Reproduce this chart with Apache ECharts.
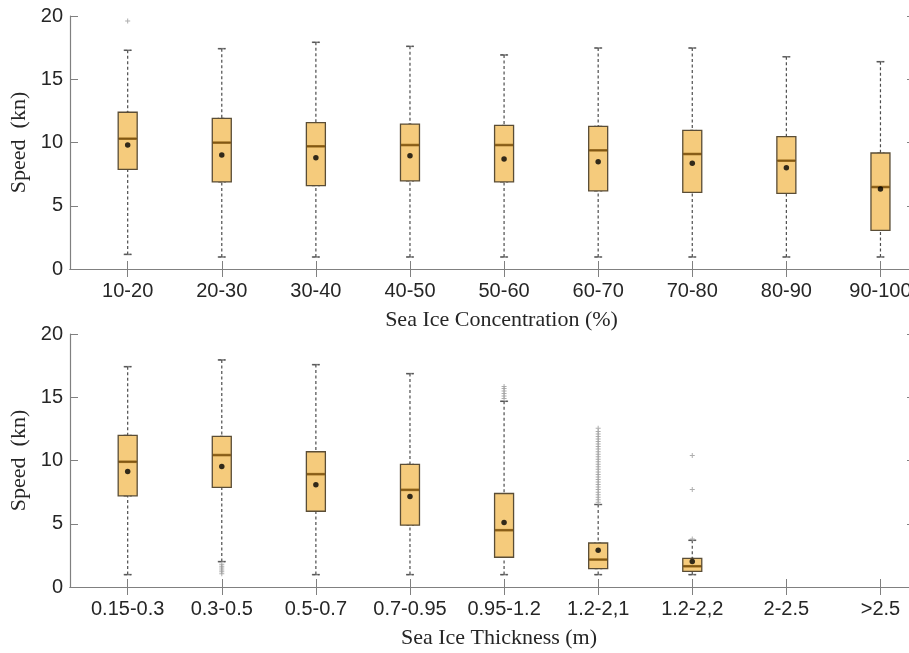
<!DOCTYPE html>
<html>
<head>
<meta charset="utf-8">
<script src="https://cdn.jsdelivr.net/npm/echarts@6/dist/echarts.min.js"></script>
<style>
  html, body { margin: 0; padding: 0; background: #fff; }
  #chart { width: 909px; height: 653px; }
</style>
</head>
<body>
<div id="chart"></div>
<script>
// top panel: speed by sea ice concentration
const concCats = ['10-20', '20-30', '30-40', '40-50', '50-60', '60-70', '70-80', '80-90', '90-100'];
const concLow  = [1.15, 0.95, 0.95, 0.95, 0.95, 0.95, 0.95, 0.95, 0.95];
const concQ1   = [7.88, 6.88, 6.59, 6.96, 6.88, 6.17, 6.06, 5.98, 3.06];
const concMed  = [10.30, 9.99, 9.70, 9.80, 9.80, 9.38, 9.09, 8.56, 6.48];
const concQ3   = [12.39, 11.91, 11.57, 11.46, 11.36, 11.28, 10.96, 10.46, 9.17];
const concHigh = [17.29, 17.42, 17.92, 17.60, 16.92, 17.47, 17.47, 16.78, 16.39];
const concMean = [9.80, 9.01, 8.80, 8.96, 8.70, 8.48, 8.35, 8.01, 6.32];
const concOutliers = [[1, 19.6]];

// bottom panel: speed by sea ice thickness
const thickCats = ['0.15-0.3', '0.3-0.5', '0.5-0.7', '0.7-0.95', '0.95-1.2', '1.2-2,1', '1.2-2,2', '2-2.5', '>2.5'];
const thickLow  = [0.98, 2.01, 0.98, 0.98, 0.98, 0.98, 0.98];
const thickQ1   = [7.21, 7.87, 5.99, 4.89, 2.35, 1.46, 1.24];
const thickMed  = [9.90, 10.43, 8.92, 7.68, 4.49, 2.17, 1.64];
const thickQ3   = [11.98, 11.91, 10.69, 9.69, 7.39, 3.48, 2.27];
const thickHigh = [17.42, 17.95, 17.58, 16.87, 14.68, 6.52, 3.69];
const thickMean = [9.14, 9.53, 8.08, 7.16, 5.10, 2.91, 2.01];
const thickOutliers = [
  [2, 1.05], [2, 1.2], [2, 1.35], [2, 1.5], [2, 1.65], [2, 1.8],
  [5, 14.9], [5, 15.1], [5, 15.3], [5, 15.5], [5, 15.7], [5, 15.85],
  [6, 6.7], [6, 6.9], [6, 7.1], [6, 7.3], [6, 7.5], [6, 7.7], [6, 7.9], [6, 8.1],
  [6, 8.3], [6, 8.5], [6, 8.7], [6, 8.9], [6, 9.1], [6, 9.3], [6, 9.5], [6, 9.7],
  [6, 9.9], [6, 10.1], [6, 10.3], [6, 10.5], [6, 10.7], [6, 10.9], [6, 11.1], [6, 11.3],
  [6, 11.5], [6, 11.7], [6, 11.9], [6, 12.1], [6, 12.3], [6, 12.55],
  [7, 3.8], [7, 7.7], [7, 10.4]
];

const POSITIONS = [1, 2, 3, 4, 5, 6, 7, 8, 9];
const FRAME = '#808080';
const TEXT = '#262626';
const PLUS = 'path://M4,0h2v4h4v2h-4v4h-2v-4h-4v-2h4z';

function xAxes(cats, gridIndex, name, nameShift) {
  const common = {
    type: 'value', gridIndex, min: 0.387, max: 9.367,
    splitLine: { show: false },
    axisLine: { lineStyle: { color: FRAME, width: 1.2 } },
    axisTick: { inside: true, length: 8, customValues: POSITIONS, lineStyle: { color: FRAME } }
  };
  return [
    Object.assign({}, common, {
      position: 'bottom',
      name: name, nameLocation: 'middle', nameGap: 40,
      nameTextStyle: { fontFamily: 'Liberation Serif', fontSize: 22, color: TEXT, padding: [0, 0, 0, nameShift] },
      axisLabel: {
        customValues: POSITIONS, margin: 12, fontFamily: 'Liberation Sans', fontSize: 20, color: TEXT,
        formatter: v => cats[Math.round(v) - 1] || ''
      }
    }),
    Object.assign({}, common, { position: 'top', axisLabel: { show: false } })
  ];
}

function yAxes(gridIndex) {
  const common = {
    type: 'value', gridIndex, min: 0, max: 20, interval: 5,
    splitLine: { show: false },
    axisLine: { show: true, lineStyle: { color: FRAME, width: 1.2 } },
    axisTick: { show: true, inside: true, length: 8, lineStyle: { color: FRAME } }
  };
  return [
    Object.assign({}, common, {
      position: 'left',
      name: 'Speed  (kn)', nameLocation: 'middle', nameGap: 37,
      nameTextStyle: { fontFamily: 'Liberation Serif', fontSize: 22, color: TEXT },
      axisLabel: { margin: 7, fontFamily: 'Liberation Sans', fontSize: 20, color: TEXT }
    }),
    Object.assign({}, common, { position: 'right', axisLabel: { show: false } })
  ];
}

// axisIdx: index of the bottom x axis / left y axis of the panel; the top x axis (axisIdx + 1)
// carries the whisker boxplot so that it is not offset against the box series
function panelSeries(axisIdx, low, q1, med, q3, high, mean, outliers) {
  const idx = low.map((_, i) => i);
  const ax = { xAxisIndex: axisIdx, yAxisIndex: axisIdx };
  return [
    // dashed whiskers
    {
      type: 'boxplot', xAxisIndex: axisIdx + 1, yAxisIndex: axisIdx,
      boxWidth: [7, 7], silent: true,
      itemStyle: { color: 'transparent', borderColor: '#4d4d4d', borderWidth: 1.2, borderType: [3, 2.5] },
      data: idx.map(i => [POSITIONS[i], low[i], q1[i], med[i], q3[i], high[i]])
    },
    // solid boxes
    Object.assign({
      type: 'boxplot', boxWidth: [19, 19], silent: true,
      itemStyle: { color: '#f5cb7c', borderColor: '#5a4d36', borderWidth: 1.3 },
      data: idx.map(i => [POSITIONS[i], q1[i], q1[i], med[i], q3[i], q3[i]])
    }, ax),
    // whisker caps
    Object.assign({
      type: 'scatter', symbol: 'rect', symbolSize: [8, 1.5], silent: true,
      itemStyle: { color: '#5a5a5a' },
      data: idx.flatMap(i => [[POSITIONS[i], low[i]], [POSITIONS[i], high[i]]])
    }, ax),
    // median
    Object.assign({
      type: 'scatter', symbol: 'rect', symbolSize: [18, 2.6], silent: true,
      itemStyle: { color: '#8a5a0c' },
      data: idx.map(i => [POSITIONS[i], med[i]])
    }, ax),
    // mean
    Object.assign({
      type: 'scatter', symbol: 'circle', symbolSize: 5.5, silent: true,
      itemStyle: { color: '#000' },
      data: idx.map(i => [POSITIONS[i], mean[i]])
    }, ax),
    // outliers
    Object.assign({
      type: 'scatter', symbol: PLUS, symbolSize: 5, silent: true,
      itemStyle: { color: '#9a9a9a' },
      data: outliers.map(o => [POSITIONS[o[0] - 1], o[1]])
    }, ax)
  ];
}

const chart = echarts.init(document.getElementById('chart'));
chart.setOption({
  animation: false,
  grid: [
    { left: 70, top: 16, width: 845, height: 253, outerBoundsMode: 'none' },
    { left: 70, top: 334, width: 845, height: 253, outerBoundsMode: 'none' }
  ],
  xAxis: [].concat(
    xAxes(concCats, 0, 'Sea Ice Concentration (%)', 18),
    xAxes(thickCats, 1, 'Sea Ice Thickness (m)', 13)
  ),
  yAxis: [].concat(yAxes(0), yAxes(1)),
  series: [].concat(
    panelSeries(0, concLow, concQ1, concMed, concQ3, concHigh, concMean, concOutliers),
    panelSeries(2, thickLow, thickQ1, thickMed, thickQ3, thickHigh, thickMean, thickOutliers)
  )
});
</script>
</body>
</html>
